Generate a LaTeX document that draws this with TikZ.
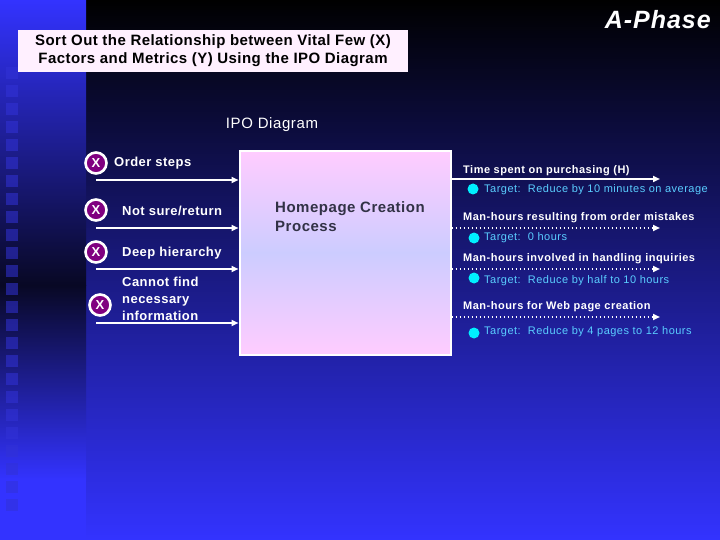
\documentclass[tikz,border=0pt]{standalone}
\usepackage{fontspec}
\setmainfont{Liberation Sans}
\usetikzlibrary{arrows.meta}
\definecolor{deepblue}{RGB}{51,51,255}
\definecolor{midblue}{RGB}{36,36,170}
\definecolor{nightblue}{RGB}{8,8,36}
\definecolor{sqblue}{RGB}{50,50,215}
\definecolor{xpurple}{RGB}{128,0,128}
\definecolor{goalcyan}{RGB}{90,205,255}
\definecolor{dotcyan}{RGB}{0,240,255}
\definecolor{boxpink}{RGB}{255,204,255}
\definecolor{boxlilac}{RGB}{204,204,255}
\definecolor{titlepink}{RGB}{255,240,255}
\definecolor{procgray}{RGB}{50,50,70}
\newcommand{\wide}[1]{\addfontfeatures{LetterSpace=#1}}
\tikzset{
  xmark/.style={draw=white,circle,line width=2.6pt,fill=xpurple,inner sep=0pt,
    minimum size=21pt,text=white,font=\bfseries\fontsize{13}{13}\selectfont},
  inlabel/.style={anchor=west,inner sep=0pt,text=white,align=left,
    font=\bfseries\fontsize{13}{17}\selectfont\wide{3.5}},
  outlabel/.style={anchor=west,inner sep=0pt,text=white,
    font=\bfseries\fontsize{11}{12}\selectfont\wide{4.5}},
  goal/.style={anchor=west,inner sep=0pt,text=goalcyan,
    font=\fontsize{11}{12}\selectfont\wide{4.5}},
  goaldot/.style={circle,fill=dotcyan,inner sep=0pt,minimum size=11pt},
  procbox/.style={draw=white,line width=2pt,top color=boxpink,bottom color=boxpink,
    middle color=boxlilac,minimum width=211,minimum height=203,inner sep=0pt},
  inarrow/.style={draw=white,line width=1.8pt,-{Triangle[length=7pt,width=6pt]}},
  outarrow/.style={draw=white,line width=1.8pt,-{Triangle[length=7pt,width=6pt]}},
  dotarrow/.style={outarrow,dash pattern=on 1.8pt off 2.2pt},
  sq/.style={fill=sqblue,fill opacity=0.55}
}
\begin{document}
\begin{tikzpicture}[x=1pt,y=-1pt]
\useasboundingbox (0,0) rectangle (720,540);
\shade[top color=black,middle color=midblue,bottom color=deepblue] (86,0) rectangle (720,540);
\shade[top color=deepblue,bottom color=nightblue] (0,0) rectangle (86,285);
\shade[top color=nightblue,bottom color=deepblue] (0,285) rectangle (86,480);
\fill[deepblue] (0,480) rectangle (86,540);
\foreach \y in {67,85,...,499} \fill[sq] (6,\y) rectangle ++(12,12);

\node[fill=titlepink,minimum width=390,minimum height=42,align=center,inner sep=0pt,
  font=\bfseries\fontsize{15}{18}\selectfont\wide{3}] (title) at (213,51)
  {Sort Out the Relationship between Vital Few (X)\\Factors and Metrics (Y) Using the IPO Diagram};
\node[anchor=east,inner sep=0pt,text=white,font=\bfseries\itshape\fontsize{25}{25}\selectfont\wide{4}]
  (phase) at (711,20) {A-Phase};
\node[text=white,inner sep=0pt,font=\fontsize{15}{15}\selectfont\wide{4}] (ipo) at (272,125) {IPO Diagram};

\node[procbox] (proc) at (345,253) {};
\node[anchor=north west,inner sep=0pt,align=left,text=procgray,
  font=\bfseries\fontsize{15}{19}\selectfont\wide{3.5}] (ptext) at (275,201) {Homepage Creation\\Process};

\node[xmark] (x1) at (96,163) {X};
\node[xmark] (x2) at (96,210) {X};
\node[xmark] (x3) at (96,252) {X};
\node[xmark] (x4) at (100,305) {X};
\node[inlabel] (l1) at (114,163) {Order steps};
\node[inlabel] (l2) at (122,211) {Not sure/return};
\node[inlabel] (l3) at (122,253) {Deep hierarchy};
\node[inlabel] (l4) at (122,299) {Cannot find\\necessary\\information};
\coordinate (i1) at (96,180);
\coordinate (i2) at (96,228);
\coordinate (i3) at (96,269);
\coordinate (i4) at (96,323);
\draw[inarrow] (i1) -- (i1 -| proc.west);
\draw[inarrow] (i2) -- (i2 -| proc.west);
\draw[inarrow] (i3) -- (i3 -| proc.west);
\draw[inarrow] (i4) -- (i4 -| proc.west);

\coordinate (o1) at (660,179);
\coordinate (o2) at (660,228);
\coordinate (o3) at (660,269);
\coordinate (o4) at (660,317);
\draw[outarrow] (proc.east |- o1) -- (o1);
\draw[dotarrow] (proc.east |- o2) -- (o2);
\draw[dotarrow] (proc.east |- o3) -- (o3);
\draw[dotarrow] (proc.east |- o4) -- (o4);
\node[outlabel] (m1) at (463,171) {Time spent on purchasing (H)};
\node[outlabel] (m2) at (463,218) {Man-hours resulting from order mistakes};
\node[outlabel] (m3) at (463,259) {Man-hours involved in handling inquiries};
\node[outlabel] (m4) at (463,307) {Man-hours for Web page creation};
\node[goaldot] (d1) at (473,189) {};
\node[goaldot] (d2) at (474,238) {};
\node[goaldot] (d3) at (474,278) {};
\node[goaldot] (d4) at (474,333) {};
\node[goal] (t1) at (484,190) {Target:\ \ Reduce by 10 minutes on average};
\node[goal] (t2) at (484,238) {Target:\ \ 0 hours};
\node[goal] (t3) at (484,281) {Target:\ \ Reduce by half to 10 hours};
\node[goal] (t4) at (484,332) {Target:\ \ Reduce by 4 pages to 12 hours};
\end{tikzpicture}
\end{document}
